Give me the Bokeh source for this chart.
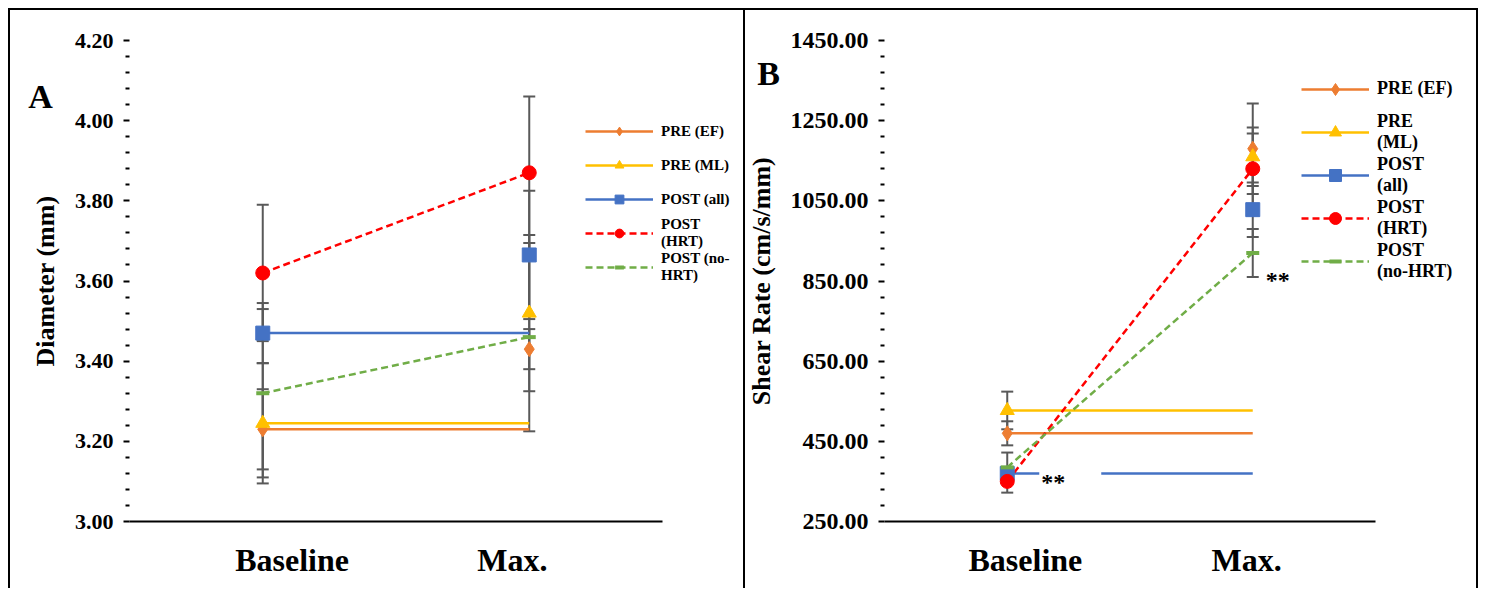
from bokeh.plotting import figure
from bokeh.models import (Range1d, FixedTicker, Whisker, TeeHead,
                          ColumnDataSource, Legend, LegendItem, Label, PrintfTickFormatter)
from bokeh.layouts import row
from bokeh.embed import file_html
from bokeh.resources import INLINE

# ---------------- data ----------------
conditions = ["Baseline", "Max."]
series_a = ["PRE (EF)", "PRE (ML)", "POST (all)", "POST\n(HRT)", "POST (no-\nHRT)"]
series_b = ["PRE (EF)", "PRE\n(ML)", "POST\n(all)", "POST\n(HRT)", "POST\n(no-HRT)"]

# Panel A: Diameter (mm)
diam_pre_ef = [3.23, 3.43]
diam_pre_ml = [3.245, 3.52]
diam_post_all = [3.47, 3.665]
diam_post_hrt = [3.62, 3.87]
diam_post_nohrt = [3.32, 3.46]
diam_pre_ef_err = [0.10, 0.05]
diam_pre_ml_err = [0.15, 0.195]
diam_post_all_err = [0.075, 0.16]
diam_post_hrt_err = [0.17, 0.19]
diam_post_nohrt_err = [0.21, 0.235]
diam_ticks = [3.00, 3.20, 3.40, 3.60, 3.80, 4.00, 4.20]

# Panel B: Shear rate (cm/s/mm)
shear_pre_ef = [470, 1180]
shear_pre_ml = [527, 1160]
shear_post_all = [370, 1028]
shear_post_hrt = [350, 1130]
shear_post_nohrt = [385, 920]
shear_pre_ef_err = [30, 113]
shear_pre_ml_err = [47, 73]
shear_post_all_err = [15, 68]
shear_post_hrt_err = [28, 88]
shear_post_nohrt_err = [37, 60]
shear_ticks = [250, 450, 650, 850, 1050, 1250, 1450]

colors = ["#ED7D31", "#FFC000", "#4472C4", "#FF0000", "#70AD47"]
markers = ["diamond", "triangle", "square", "circle", "dash"]
dashed = [False, False, False, True, True]
FONT = "Liberation Serif"
ERR = "#595959"
XPOS = [i + 0.5 for i in range(len(conditions))]

# layout constants (pixels inside each panel)
FRAME_W, FRAME_H = 733, 578
AXIS_TOP, AXIS_BOTTOM = 30, 511   # pixel rows of y_hi and y_lo from frame top


def make_panel(means, errs, labels, ticks, ylabel, letter, letter_xy,
               stars, axis_px, unit_px, label_pos, legend_loc, legend_font,
               glyph_h, item_h, tick_font, styles):
    y_lo, y_hi = ticks[0], ticks[-1]
    x_start = -axis_px / unit_px
    x_end = x_start + FRAME_W / unit_px
    ppu = (AXIS_BOTTOM - AXIS_TOP) / (y_hi - y_lo)
    y_start = y_lo - (FRAME_H - AXIS_BOTTOM) / ppu
    y_end = y_hi + AXIS_TOP / ppu
    p = figure(x_range=Range1d(x_start, x_end), y_range=Range1d(y_start, y_end),
               width=735, height=580, output_backend="svg", toolbar_location=None,
               min_border_left=0, min_border_right=2,
               min_border_top=0, min_border_bottom=2)
    p.styles = styles
    p.outline_line_color = None
    p.grid.grid_line_color = None

    items = []
    xs, up, lo = [], [], []
    for m, e in zip(means, errs):
        for c, v, ev in zip(XPOS, m, e):
            xs.append(c); up.append(v + ev); lo.append(v - ev)
    wsrc = ColumnDataSource(dict(x=xs, upper=up, lower=lo))

    line_renderers = []
    for m, col, dsh in zip(means, colors, dashed):
        ys = m if dsh else [m[0], m[0]]
        r = p.line(XPOS, ys, line_color=col, line_width=2.5,
                   line_dash="7 4" if dsh else "solid")
        line_renderers.append(r)

    w = Whisker(source=wsrc, base="x", upper="upper", lower="lower",
                line_color=ERR, line_width=2,
                upper_head=TeeHead(size=12, line_color=ERR, line_width=2),
                lower_head=TeeHead(size=12, line_color=ERR, line_width=2))
    p.add_layout(w)

    for m, col, mk, lab, lr in zip(means, colors, markers, labels, line_renderers):
        if mk == "dash":
            s = p.scatter(XPOS, m, marker="dash", size=13, line_color=col,
                          line_width=4)
        else:
            sz = {"diamond": 15, "triangle": 14, "square": 14, "circle": 14}[mk]
            s = p.scatter(XPOS, m, marker=mk, size=sz, fill_color=col,
                          line_color=col)
        items.append(LegendItem(label=lab, renderers=[lr, s]))

    legend = Legend(items=items, location=legend_loc, padding=0, margin=0,
                    border_line_color=None, background_fill_alpha=0,
                    glyph_width=68, glyph_height=glyph_h, label_height=item_h,
                    label_standoff=8, spacing=0, label_text_font=FONT,
                    label_text_font_style="bold", label_text_font_size=legend_font,
                    label_text_color="black", label_text_line_height=1.0)
    p.add_layout(legend)

    # x axis (categories), drawn at y_lo inside the tall frame
    p.xaxis.fixed_location = y_lo
    p.xaxis.bounds = (0, len(conditions))
    p.xaxis.ticker = FixedTicker(ticks=label_pos, minor_ticks=[])
    p.xaxis.major_label_overrides = {lp: c for lp, c in zip(label_pos, conditions)}
    p.xaxis.axis_line_color = "black"
    p.xaxis.axis_line_width = 2
    p.xaxis.major_tick_line_color = None
    p.xaxis.minor_tick_line_color = None
    p.xaxis.major_label_text_font = FONT
    p.xaxis.major_label_text_font_style = "bold"
    p.xaxis.major_label_text_font_size = "32px"
    p.xaxis.major_label_text_color = "black"
    p.xaxis.major_label_standoff = 14

    # y axis drawn at x = 0 inside the wide frame
    step = ticks[1] - ticks[0]
    minors = [t + step * k / 5 for t in ticks[:-1] for k in range(1, 5)]
    p.yaxis.fixed_location = 0
    p.yaxis.bounds = (y_lo, y_hi)
    p.yaxis.ticker = FixedTicker(ticks=ticks, minor_ticks=minors)
    p.yaxis.formatter = PrintfTickFormatter(format="%.2f")
    p.yaxis.axis_line_color = None
    p.yaxis.major_tick_line_color = "black"
    p.yaxis.major_tick_line_width = 2
    p.yaxis.major_tick_out = 6
    p.yaxis.major_tick_in = 0
    p.yaxis.minor_tick_line_color = "black"
    p.yaxis.minor_tick_line_width = 2
    p.yaxis.minor_tick_out = 4
    p.yaxis.minor_tick_in = 0
    p.yaxis.major_label_text_font = FONT
    p.yaxis.major_label_text_font_style = "bold"
    p.yaxis.major_label_text_font_size = tick_font
    p.yaxis.major_label_text_color = "black"
    p.yaxis.major_label_standoff = 10
    p.yaxis.axis_label = ylabel
    p.yaxis.axis_label_text_font = FONT
    p.yaxis.axis_label_text_font_style = "bold"
    p.yaxis.axis_label_text_font_size = "26px"
    p.yaxis.axis_label_text_color = "black"
    p.yaxis.axis_label_standoff = 12

    p.add_layout(Label(x=letter_xy[0], y=letter_xy[1], text=letter, text_font=FONT,
                       text_font_style="bold", text_font_size="34px",
                       text_color="black", text_align="center",
                       text_baseline="middle"))
    for (sx, sy, xo) in stars:
        p.add_layout(Label(x=sx, y=sy, x_offset=xo, y_offset=3, text="**",
                           text_font=FONT, text_font_style="bold",
                           text_font_size="24px", text_color="black",
                           text_align="left", text_baseline="middle",
                           background_fill_color="white",
                           padding={"left": 2, "right": 36, "top": 4, "bottom": 0}))
    return p


p1 = make_panel(
    [diam_pre_ef, diam_pre_ml, diam_post_all, diam_post_hrt, diam_post_nohrt],
    [diam_pre_ef_err, diam_pre_ml_err, diam_post_all_err, diam_post_hrt_err, diam_post_nohrt_err],
    series_a, diam_ticks, "Diameter (mm)", "A", (-0.334, 4.06), [],
    119, 266.5, [0.61, 1.437], (575, 304), "15px", 22, 34, "22px",
    {"border-top": "2px solid black", "border-left": "2px solid black",
     "margin-top": "8px", "margin-left": "8px"})

p2 = make_panel(
    [shear_pre_ef, shear_pre_ml, shear_post_all, shear_post_hrt, shear_post_nohrt],
    [shear_pre_ef_err, shear_pre_ml_err, shear_post_all_err, shear_post_hrt_err, shear_post_nohrt_err],
    series_b, shear_ticks, "Shear Rate (cm/s/mm)", "B", (-0.472, 1367),
    [(XPOS[0], 347, 32), (XPOS[1], 851, 11)],
    139, 245.5, [0.574, 1.475], (556, 306), "18px", 30, 43, "24px",
    {"border-top": "2px solid black", "border-left": "2px solid black",
     "border-right": "2px solid black", "margin-top": "8px"})

layout = row(p1, p2)
open("out.html", "w").write(file_html(layout, INLINE))
